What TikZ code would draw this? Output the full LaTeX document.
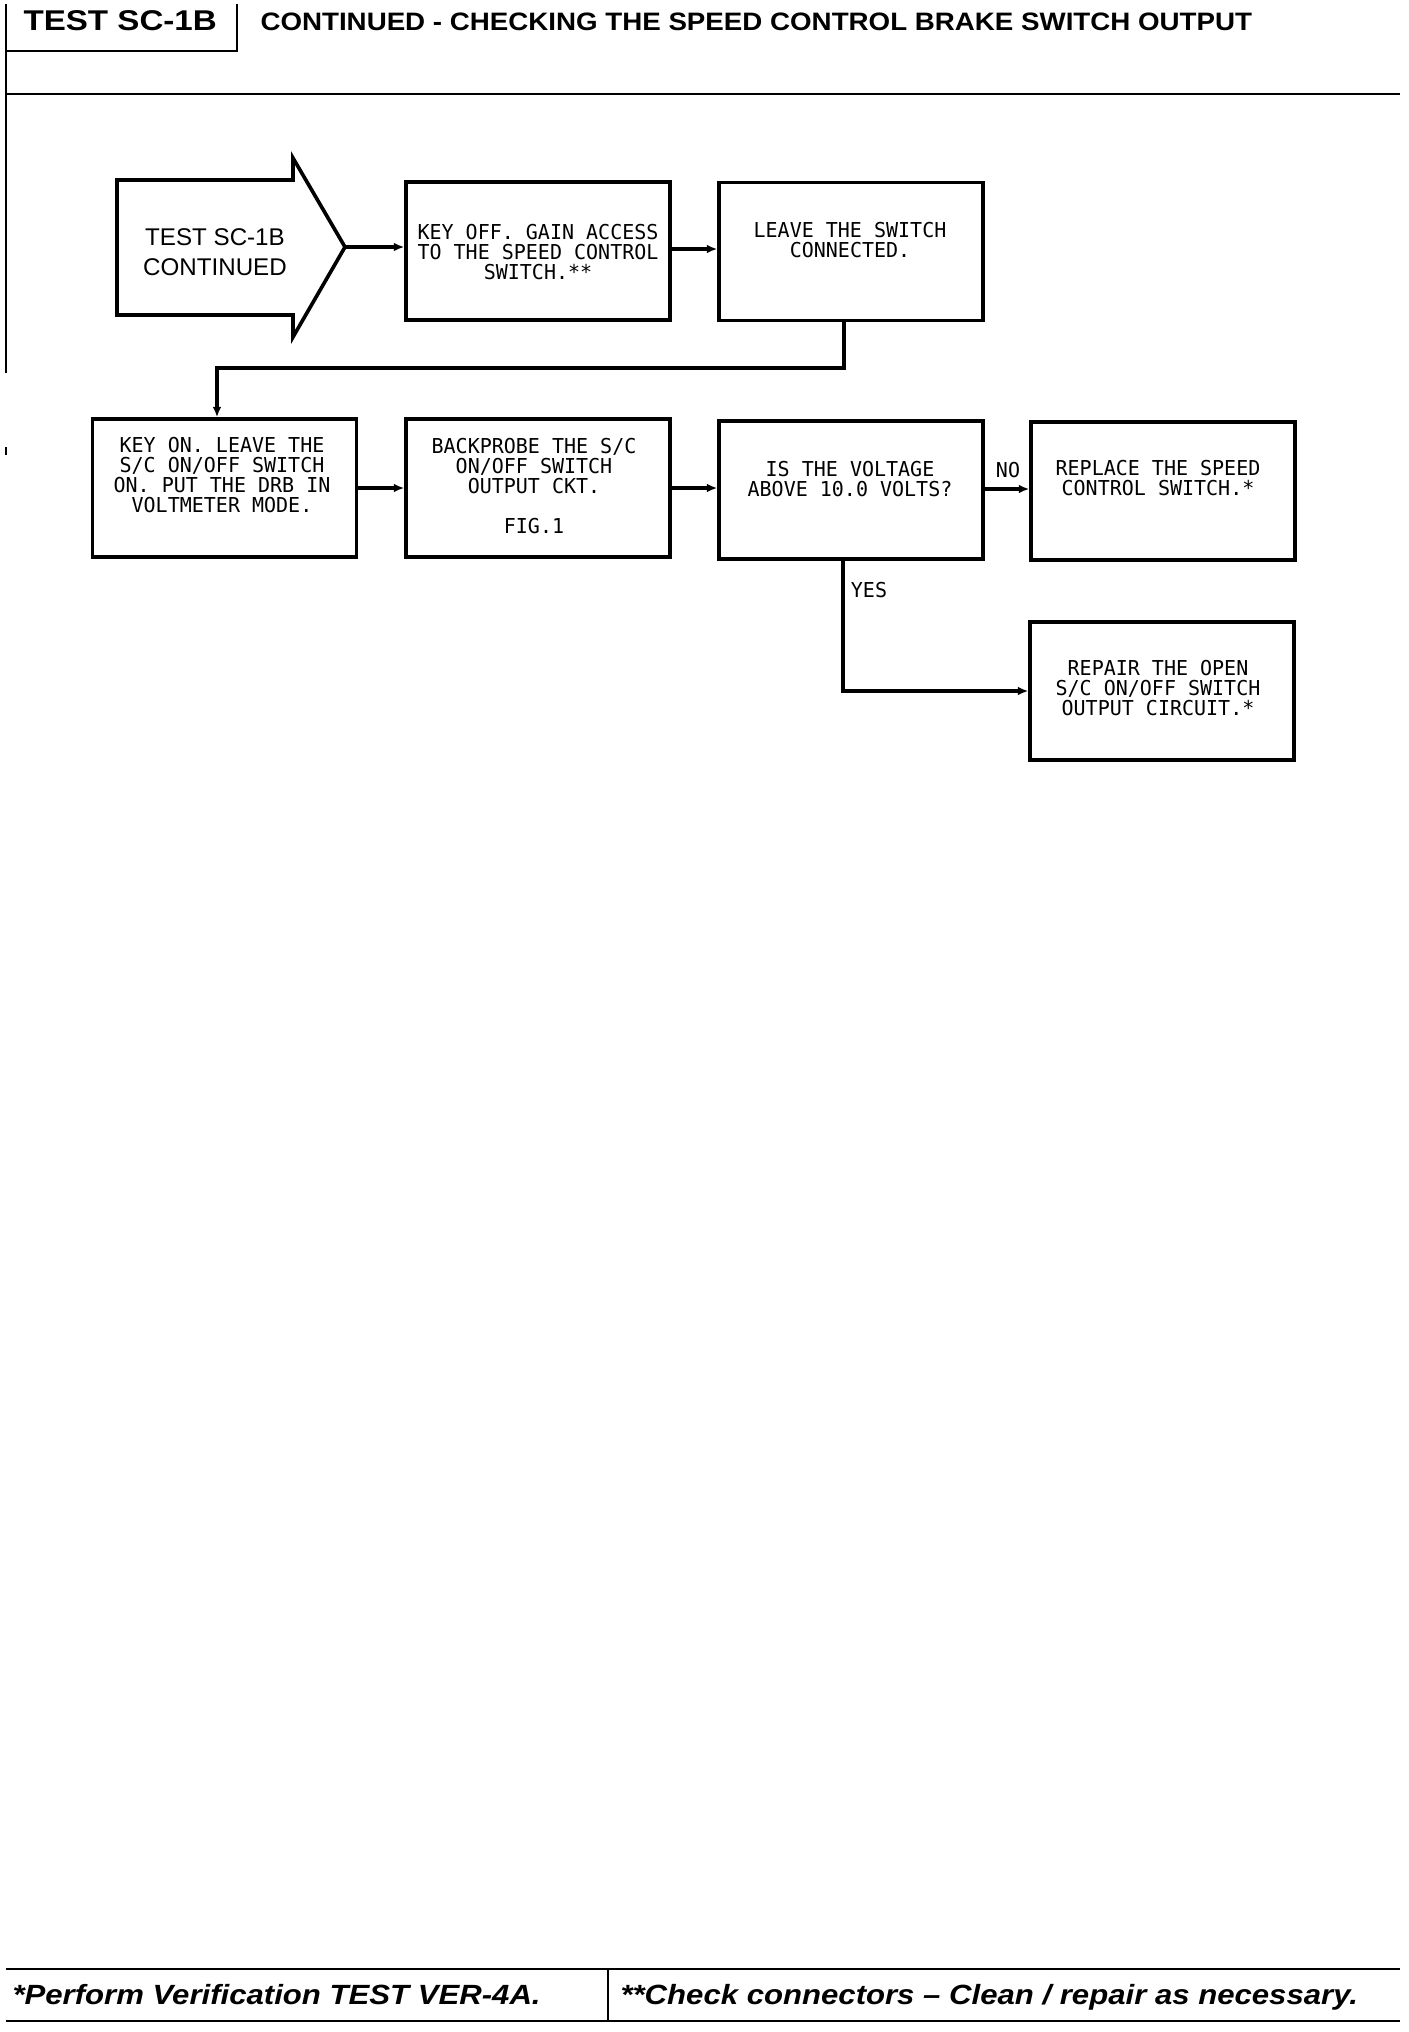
\documentclass[tikz,border=0pt]{standalone}
\usepackage{fontspec}
\setmainfont{Liberation Sans}
\newfontfamily\plotfont[FakeStretch=0.975]{DejaVu Sans Mono}
\newfontfamily\hdrfont[FakeStretch=1.16]{Liberation Sans}
\newfontfamily\titlefont[FakeStretch=1.1]{Liberation Sans}
\newfontfamily\footfont[FakeStretch=1.12]{Liberation Sans}
\usetikzlibrary{arrows.meta}
\begin{document}
\begin{tikzpicture}[x=0.385pt,y=-0.385pt,
  rulefr/.style={line width=1.1pt},
  boxnode/.style={draw,line width=1.4pt,inner sep=0pt,minimum width=101.6pt,minimum height=53.1pt},
  plottext/.style={inner sep=0pt,align=center,font=\plotfont\fontsize{7.9}{7.7}\selectfont},
  conn/.style={line width=1.3pt,-{Latex[length=4pt,width=3.4pt]}},
  hdrbig/.style={inner sep=0pt,anchor=base west,font=\hdrfont\bfseries\fontsize{11}{13}\selectfont},
  hdrtitle/.style={inner sep=0pt,anchor=base west,font=\titlefont\bfseries\fontsize{9.7}{12}\selectfont},
  foot/.style={inner sep=0pt,anchor=base west,font=\footfont\bfseries\itshape\fontsize{10.7}{12}\selectfont}]
\useasboundingbox (0,0) rectangle (1408,2032);
% header frame
\draw[rulefr] (6,4) -- (6,373);
\draw[rulefr] (6,51) -- (237,51) -- (237,4);
\draw[rulefr] (6,94) -- (1400,94);
\draw[line width=0.8pt] (6,447) -- (6,455);
\node[hdrbig] (hdrnum) at (23,30) {TEST SC-1B};
\node[hdrtitle] (hdrtitle) at (260,30) {CONTINUED - CHECKING THE SPEED CONTROL BRAKE SWITCH OUTPUT};
% start arrow
\draw[line width=1.4pt,line join=miter] (117,180) -- (293,180) -- (293,158) -- (345,247) -- (293,337) -- (293,315) -- (117,315) -- cycle;
\coordinate (tip) at (345,247);
\node[inner sep=0pt,align=center,font=\fontsize{9.3}{11.5}\selectfont] (start) at (215,252) {TEST SC-1B\\CONTINUED};
% boxes
\node[boxnode] (b1) at (538,251) {};
\node[boxnode] (b2) at (851,251.5) {};
\node[boxnode] (b3) at (224.5,488) {};
\node[boxnode] (b4) at (538,488) {};
\node[boxnode] (b5) at (851,490) {};
\node[boxnode] (b6) at (1163,491) {};
\node[boxnode] (b7) at (1162,691) {};
% texts
\node[plottext] (t1) at (538,252) {KEY OFF. GAIN ACCESS\\TO THE SPEED CONTROL\\SWITCH.**};
\node[plottext] (t2) at (850,240) {LEAVE THE SWITCH\\CONNECTED.};
\node[plottext] (t3) at (222,475) {KEY ON. LEAVE THE\\S/C ON/OFF SWITCH\\ON. PUT THE DRB IN\\VOLTMETER MODE.};
\node[plottext] (t4) at (534,486) {BACKPROBE THE S/C\\ON/OFF SWITCH\\OUTPUT CKT.\\[7.7pt]FIG.1};
\node[plottext] (t5) at (850,479) {IS THE VOLTAGE\\ABOVE 10.0 VOLTS?};
\node[plottext] (t6) at (1158,478.5) {REPLACE THE SPEED\\CONTROL SWITCH.*};
\node[plottext] (t7) at (1158,688.5) {REPAIR THE OPEN\\S/C ON/OFF SWITCH\\OUTPUT CIRCUIT.*};
% connectors
\coordinate (d2) at (844,320);
\coordinate (j1) at (217,368);
\coordinate (d5) at (843,559);
\draw[conn] (tip) -- (tip -| b1.west);
\draw[conn] (b1.east |- 0,249) -- (b2.west |- 0,249);
\draw[conn] (d2) |- (j1) -- (j1 |- b3.north);
\draw[conn] (b3.east |- 0,488) -- (b4.west |- 0,488);
\draw[conn] (b4.east |- 0,488) -- (b5.west |- 0,488);
\draw[conn] (b5.east |- 0,489) -- (b6.west |- 0,489);
\draw[conn] (d5) |- (b7.west);
\node[plottext] (no) at (1008,470) {NO};
\node[plottext] (yes) at (869,590) {YES};
% footer
\draw[rulefr] (6,1969) -- (1400,1969);
\draw[rulefr] (6,2021) -- (1400,2021);
\draw[rulefr] (608,1969) -- (608,2021);
\node[foot] (f1) at (12,2004) {*Perform Verification TEST VER-4A.};
\node[foot] (f2) at (620,2004) {**Check connectors – Clean / repair as necessary.};
\end{tikzpicture}
\end{document}
